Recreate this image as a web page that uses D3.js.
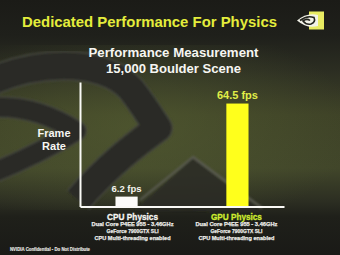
<!DOCTYPE html>
<html>
<head>
<meta charset="utf-8">
<script src="https://cdn.jsdelivr.net/npm/d3@7/dist/d3.min.js"></script>
<style>
  html, body { margin: 0; padding: 0; background: #1b1b18; }
  svg { display: block; }
  text { font-family: "Liberation Sans", Arial, sans-serif; font-weight: bold; }
</style>
</head>
<body>
<svg id="chart" width="340" height="255"></svg>
<script>
// Benchmark data: PhysX boulder scene frame rates
const categories = ["CPU Physics", "GPU Physics"];
const fpsValues = [6.2, 64.5];
const valueLabels = ["6.2 fps", "64.5 fps"];
const specLines = [
  "Dual Core P4EE 955 - 3.46GHz",
  "GeForce 7900GTX SLI",
  "CPU Multi-threading enabled"
];
const titleText = "Dedicated Performance For Physics";
const subtitleLines = ["Performance Measurement", "15,000 Boulder Scene"];
const axisTitleLines = ["Frame", "Rate"];
const footerText = "NVIDIA Confidential - Do Not Distribute";

const svg = d3.select("#chart");
const W = 340, H = 255;
const defs = svg.append("defs");

// Background gradient
const bg = defs.append("linearGradient").attr("id", "bg")
  .attr("x1", 0).attr("y1", 0).attr("x2", 0).attr("y2", 1);
[[0, "#1b1b17"], [0.14, "#1f201b"], [0.28, "#2c2e22"], [0.45, "#3e4227"],
 [0.66, "#41462a"], [0.79, "#2c2e22"], [0.85, "#1f201a"], [1, "#1a1a17"]]
  .forEach(([o, c]) => bg.append("stop").attr("offset", o).attr("stop-color", c));

const glow = defs.append("radialGradient").attr("id", "glow")
  .attr("cx", 0.4).attr("cy", 0.5).attr("r", 0.65);
glow.append("stop").attr("offset", 0).attr("stop-color", "#5a6434").attr("stop-opacity", 0.5);
glow.append("stop").attr("offset", 1).attr("stop-color", "#5a6434").attr("stop-opacity", 0);

defs.append("filter").attr("id", "soft")
  .append("feGaussianBlur").attr("stdDeviation", 1.2);

svg.append("rect").attr("width", W).attr("height", H).attr("fill", "url(#bg)");
svg.append("rect").attr("y", 45).attr("width", W).attr("height", 165).attr("fill", "url(#glow)");

// Oversized logo swoosh behind the chart
const deco = svg.append("g").attr("filter", "url(#soft)").attr("fill", "none")
  .attr("stroke-linejoin", "round").attr("stroke-linecap", "butt");
const outerBand = "M -15,84 C 35,60 100,58 130,88 C 140,100 150,116 158,128 C 135,145 108,165 78,200";
const innerBand = "M -15,108 C 20,104 50,114 76,131 C 52,146 25,160 -15,176";
[[outerBand, 27], [innerBand, 19]].forEach(([d, w]) => {
  deco.append("path").attr("d", d).attr("stroke", "#45473e").attr("stroke-width", w + 3);
  deco.append("path").attr("d", d).attr("stroke", "#2a2b26").attr("stroke-width", w);
});
deco.append("path")
  .attr("d", "M 135,210 L 193,158 L 262,212 Z")
  .attr("fill", "#282924").attr("opacity", 0.85);
deco.append("path")
  .attr("d", "M 140,200 L 193,157 L 262,208")
  .attr("stroke", "#5a5b51").attr("stroke-width", 2.2);

// Scales
const x = d3.scaleBand().domain(categories).range([80, 284])
  .paddingInner(0.8).paddingOuter(0.32);
const y = d3.scaleLinear().domain([0, 78]).range([206.5, 82]);

// Title
svg.append("text").attr("x", 22).attr("y", 27)
  .attr("font-size", 15.5).attr("fill", "#e4ed3c")
  .attr("textLength", 255).attr("lengthAdjust", "spacingAndGlyphs")
  .text(titleText);

// Logo mark
const logo = svg.append("g");
logo.append("rect").attr("x", 309).attr("y", 11.5).attr("width", 15).attr("height", 18)
  .attr("fill", "#e8eb62");
logo.append("path")
  .attr("d", "M 297,20.5 Q 307,12 318,15 L 318,26 Q 307,29 297,20.5 Z")
  .attr("fill", "#f2f2e8");
logo.append("path")
  .attr("d", "M 300,20.5 Q 307,15 314,17.5 Q 316,22 311,24 Q 306,25 303,21 Q 307,18 310,20.5")
  .attr("fill", "none").attr("stroke", "#22231d").attr("stroke-width", 1.6);

// Subtitle
svg.append("g").selectAll("text").data(subtitleLines).join("text")
  .attr("x", 173.5).attr("y", (d, i) => 56.7 + i * 16)
  .attr("text-anchor", "middle").attr("font-size", 12).attr("fill", "#f6f6f2")
  .attr("textLength", (d, i) => [170, 135][i]).attr("lengthAdjust", "spacingAndGlyphs")
  .text(d => d);

// Axis title
svg.append("g").selectAll("text").data(axisTitleLines).join("text")
  .attr("x", 54).attr("y", (d, i) => 137 + i * 13)
  .attr("text-anchor", "middle").attr("font-size", 11).attr("fill", "#f6f6f2")
  .text(d => d);

// Bars
const barColors = ["#fbfbf8", "#ffff1c"];
svg.append("g").selectAll("rect").data(fpsValues).join("rect")
  .attr("x", (d, i) => x(categories[i]))
  .attr("y", d => y(d))
  .attr("width", x.bandwidth())
  .attr("height", d => y(0) - y(d))
  .attr("fill", (d, i) => barColors[i]);

// Value labels
const valueColors = ["#f4f4ee", "#e0ee48"];
const valueSizes = [9.5, 11];
svg.append("g").selectAll("text").data(fpsValues).join("text")
  .attr("x", (d, i) => x(categories[i]) + x.bandwidth() / 2)
  .attr("y", d => y(d) - 4.7)
  .attr("text-anchor", "middle")
  .attr("font-size", (d, i) => valueSizes[i])
  .attr("fill", (d, i) => valueColors[i])
  .text((d, i) => valueLabels[i]);

// Axes: plain white lines, no ticks
const axisY = svg.append("g").attr("transform", "translate(80,0)")
  .call(d3.axisLeft(y).tickValues([]).tickSizeOuter(0));
const axisX = svg.append("g").attr("transform", `translate(0,${y(0)})`)
  .call(d3.axisBottom(x).tickValues([]).tickSizeOuter(0));
[axisY, axisX].forEach(a => a.select(".domain")
  .attr("stroke", "#fafaf6").attr("stroke-width", 2));

// Category labels with system specs
const labelShift = [6, -1];
const catColors = ["#f6f6f2", "#cfec30"];
const catGroups = svg.append("g").selectAll("g").data(categories).join("g")
  .attr("transform", (d, i) => `translate(${x(d) + x.bandwidth() / 2 + labelShift[i]},0)`);
catGroups.append("text")
  .attr("y", 219.5).attr("text-anchor", "middle").attr("font-size", 9.2)
  .attr("fill", (d, i) => catColors[i])
  .attr("stroke", (d, i) => catColors[i]).attr("stroke-width", 0.3)
  .attr("textLength", 51).attr("lengthAdjust", "spacingAndGlyphs")
  .text(d => d);
catGroups.selectAll("text.spec").data(specLines).join("text")
  .attr("class", "spec")
  .attr("y", (d, i) => 226 + i * 7)
  .attr("text-anchor", "middle").attr("font-size", 6).attr("fill", "#eeeeea")
  .attr("stroke", "#eeeeea").attr("stroke-width", 0.25)
  .attr("textLength", (d, i) => [82, 52, 76][i]).attr("lengthAdjust", "spacingAndGlyphs")
  .text(d => d);

// Footer
svg.append("text").attr("x", 10).attr("y", 250.5)
  .attr("font-size", 4.8).attr("fill", "#e6e6e2")
  .attr("stroke", "#e6e6e2").attr("stroke-width", 0.15)
  .attr("textLength", 80).attr("lengthAdjust", "spacingAndGlyphs")
  .text(footerText);
</script>
</body>
</html>
